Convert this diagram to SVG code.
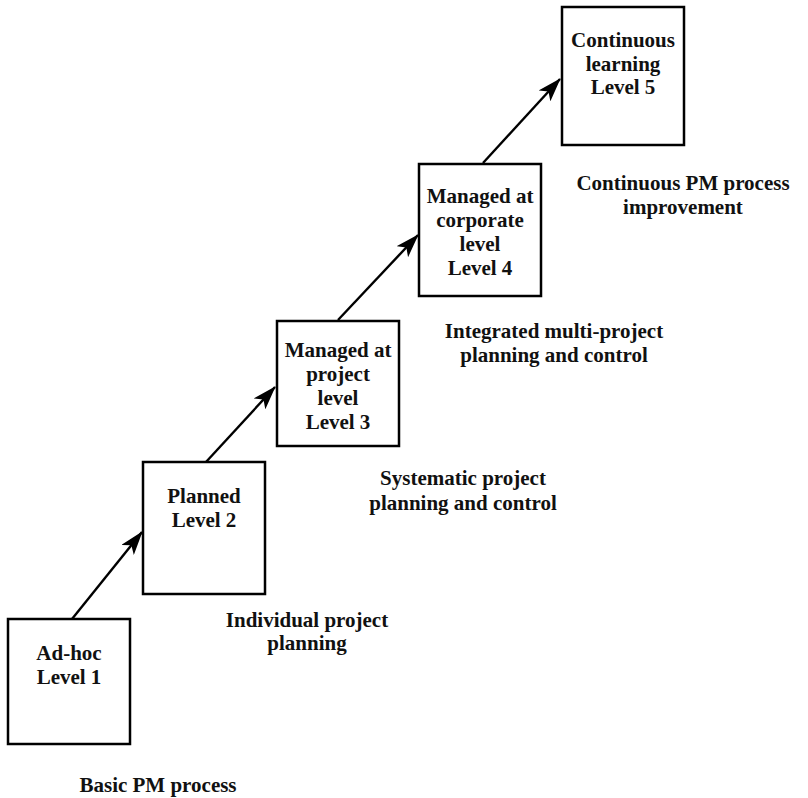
<svg xmlns="http://www.w3.org/2000/svg" width="808" height="798" viewBox="0 0 808 798">
<style>
.box{fill:#fff;stroke:#000;stroke-width:2.5}
.t{font-family:"Liberation Serif","Times New Roman",serif;font-weight:bold;font-size:21px;fill:#111;text-anchor:middle}
.c{stroke:#000;stroke-width:2.4;fill:none}
</style>
<defs>
<marker id="ah" viewBox="0 0 24 16" refX="23" refY="8" markerWidth="24" markerHeight="16" markerUnits="userSpaceOnUse" orient="auto">
<path d="M0,0 L24,8 L0,16 L6,8 Z" fill="#000"/>
</marker>
</defs>
<rect width="808" height="798" fill="#fff"/>
<g id="connectors">
<line class="c" x1="72" y1="619" x2="142" y2="532" marker-end="url(#ah)"/>
<line class="c" x1="206" y1="462" x2="275" y2="387" marker-end="url(#ah)"/>
<line class="c" x1="338" y1="320" x2="418" y2="235" marker-end="url(#ah)"/>
<line class="c" x1="483" y1="163" x2="560" y2="79" marker-end="url(#ah)"/>
</g>
<g id="level1">
<rect class="box" x="8" y="619" width="122" height="125"/>
<text class="t" x="69" y="660">Ad-hoc</text>
<text class="t" x="69" y="684">Level 1</text>
</g>
<g id="level2">
<rect class="box" x="143" y="462" width="122" height="132"/>
<text class="t" x="204" y="503">Planned</text>
<text class="t" x="204" y="527">Level 2</text>
</g>
<g id="level3">
<rect class="box" x="277" y="321" width="122" height="125"/>
<text class="t" x="338" y="357">Managed at</text>
<text class="t" x="338" y="381">project</text>
<text class="t" x="338" y="405">level</text>
<text class="t" x="338" y="429">Level 3</text>
</g>
<g id="level4">
<rect class="box" x="419" y="164" width="122" height="132"/>
<text class="t" x="480" y="203">Managed at</text>
<text class="t" x="480" y="227">corporate</text>
<text class="t" x="480" y="251">level</text>
<text class="t" x="480" y="275">Level 4</text>
</g>
<g id="level5">
<rect class="box" x="562" y="7" width="122" height="138"/>
<text class="t" x="623" y="47">Continuous</text>
<text class="t" x="623" y="71">learning</text>
<text class="t" x="623" y="94">Level 5</text>
</g>
<g id="label1">
<text class="t" x="158" y="792">Basic PM process</text>
</g>
<g id="label2">
<text class="t" x="307" y="627">Individual project</text>
<text class="t" x="307" y="650">planning</text>
</g>
<g id="label3">
<text class="t" x="463" y="485">Systematic project</text>
<text class="t" x="463" y="510">planning and control</text>
</g>
<g id="label4">
<text class="t" x="554" y="338">Integrated multi-project</text>
<text class="t" x="554" y="362">planning and control</text>
</g>
<g id="label5">
<text class="t" x="683" y="190">Continuous PM process</text>
<text class="t" x="683" y="214">improvement</text>
</g>
</svg>
